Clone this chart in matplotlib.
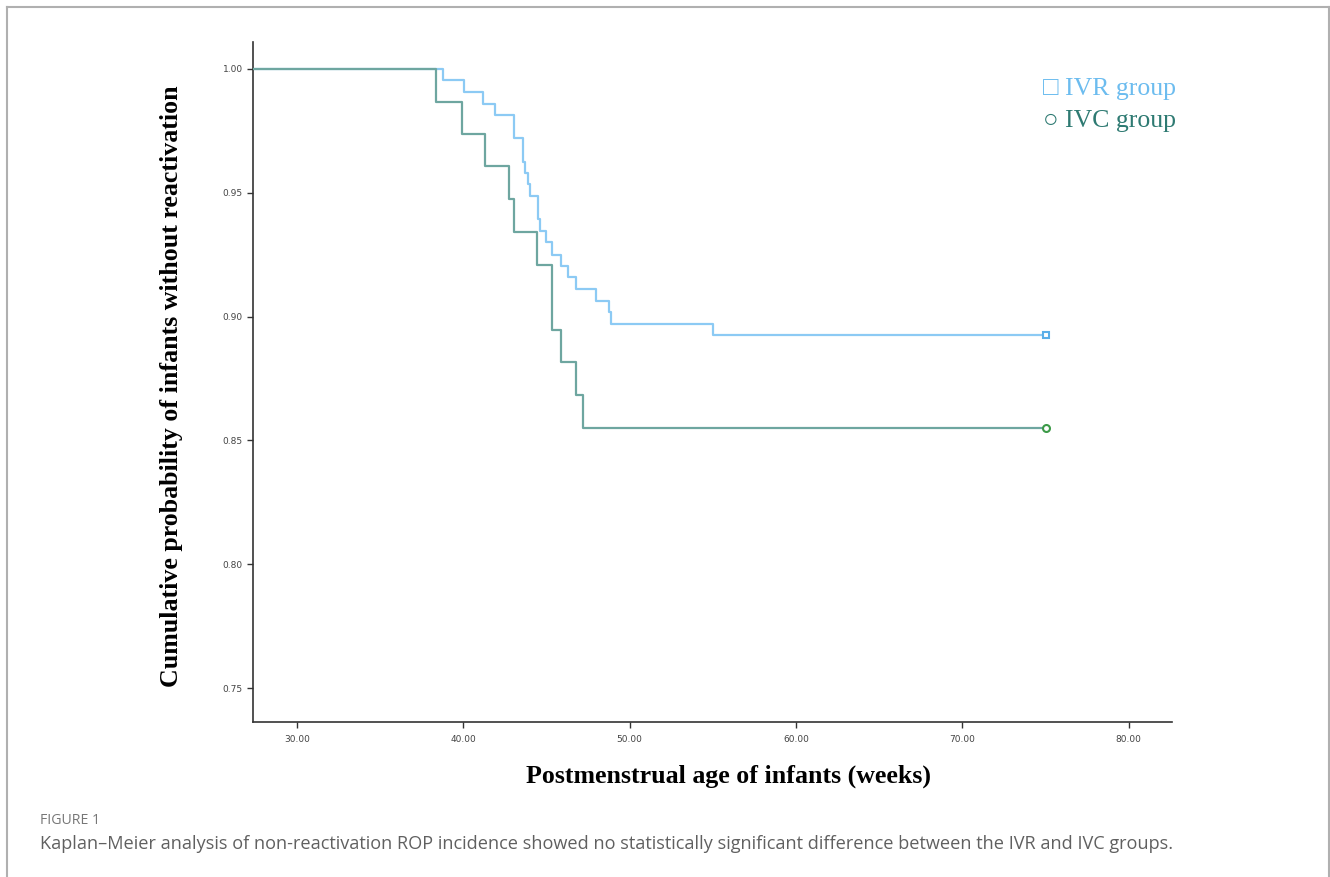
import matplotlib
matplotlib.use("Agg")
import matplotlib.pyplot as plt
from matplotlib.lines import Line2D

# ── DATA ──────────────────────────────────────────────────
ivr_weeks = [27.4, 38.76, 40.04, 41.2, 41.9, 43.06, 43.6, 43.72, 43.88, 44.0,
             44.5, 44.6, 45.0, 45.35, 45.9, 46.3, 46.75, 48.0, 48.73, 48.87,
             54.98, 75.0]
ivr_surv = [1.0, 0.9955, 0.9908, 0.986, 0.9813, 0.972, 0.9625, 0.958, 0.9534,
            0.9488, 0.9394, 0.9346, 0.930, 0.925, 0.9205, 0.9158, 0.9112,
            0.9065, 0.9019, 0.8972, 0.8925, 0.8925]

ivc_weeks = [27.4, 38.33, 39.9, 41.3, 42.74, 43.04, 44.46, 45.32, 45.9, 46.75,
             47.17, 75.0]
ivc_surv = [1.0, 0.9868, 0.9737, 0.9607, 0.9473, 0.9342, 0.921, 0.8948,
            0.8816, 0.8685, 0.8552, 0.8552]

x_ticks = [30, 40, 50, 60, 70, 80]
y_ticks = [0.75, 0.80, 0.85, 0.90, 0.95, 1.00]

caption_head = "FIGURE 1"
caption_text = ("Kaplan\u2013Meier analysis of non-reactivation ROP incidence showed "
                "no statistically significant difference between the IVR and IVC groups.")

IVR_LINE = "#8ccaf4"
IVC_LINE = "#6ea6a0"

# ── FIGURE ────────────────────────────────────────────────
W, H = 1330, 877
fig = plt.figure(figsize=(W / 100, H / 100), dpi=100)
ax = fig.add_axes([253 / W, 155 / H, (1172 - 253) / W, (722 - 42) / H])

ax.step(ivr_weeks, ivr_surv, where="post", color=IVR_LINE, lw=1.6, zorder=2)
ax.step(ivc_weeks, ivc_surv, where="post", color=IVC_LINE, lw=1.6, zorder=3)
ax.plot(ivr_weeks[-1], ivr_surv[-1], marker="s", ms=5, mfc="white",
        mec="#5aaee8", mew=1.5, zorder=4)
ax.plot(ivc_weeks[-1], ivc_surv[-1], marker="o", ms=5, mfc="white",
        mec="#3c9a48", mew=1.5, zorder=4)

ax.set_xlim(27.36, 82.6)
ax.set_ylim(0.7363, 1.0109)
ax.set_xticks(x_ticks)
ax.set_xticklabels([f"{v:.2f}" for v in x_ticks])
ax.set_yticks(y_ticks)
ax.set_yticklabels([f"{v:.2f}" for v in y_ticks])
ax.tick_params(axis="both", labelsize=6.5, labelcolor="#444444", color="#333333",
               length=4, width=1, direction="out")
ax.tick_params(axis="x", pad=5)
ax.spines["top"].set_visible(False)
ax.spines["right"].set_visible(False)
for s in ["left", "bottom"]:
    ax.spines[s].set_color("#333333")
    ax.spines[s].set_linewidth(1.2)

serif = ["Liberation Serif", "DejaVu Serif"]
fig.text(172 / W, 1 - 386 / H,
         "Cumulative probability of infants without reactivation",
         rotation=90, ha="center", va="center", fontsize=18.6,
         fontweight="bold", family=serif, color="black")
fig.text(729 / W, 1 - 776 / H, "Postmenstrual age of infants (weeks)",
         ha="center", va="center", fontsize=18.6, fontweight="bold",
         family=serif, color="black")

# legend drawn as plain text, as in the reference
fig.text(1043 / W, 1 - 89 / H, "\u25a1 IVR group", ha="left", va="center",
         fontsize=18.5, family=["Liberation Serif", "DejaVu Sans"], color="#6cbcef")
fig.text(1043 / W, 1 - 121 / H, "\u25cb IVC group", ha="left", va="center",
         fontsize=18.5, family=["Liberation Serif", "DejaVu Sans"], color="#2e7a72")

# caption
fig.text(40 / W, 1 - 821 / H, caption_head, ha="left", va="center",
         fontsize=10.2, family="Open Sans", color="#777777")
fig.text(40 / W, 1 - 844 / H, caption_text, ha="left", va="center",
         fontsize=13.05, family="Open Sans", color="#606060")

# page frame (left, top, right)
frame = dict(color="#b0b0b0", lw=1.5, transform=fig.transFigure)
fig.add_artist(Line2D([6.5 / W, 6.5 / W], [0, 1 - 6.5 / H], **frame))
fig.add_artist(Line2D([6.5 / W, 1328.5 / W], [1 - 6.5 / H, 1 - 6.5 / H], **frame))
fig.add_artist(Line2D([1328.5 / W, 1328.5 / W], [0, 1 - 6.5 / H], **frame))

fig.savefig("out.png", dpi=100)
